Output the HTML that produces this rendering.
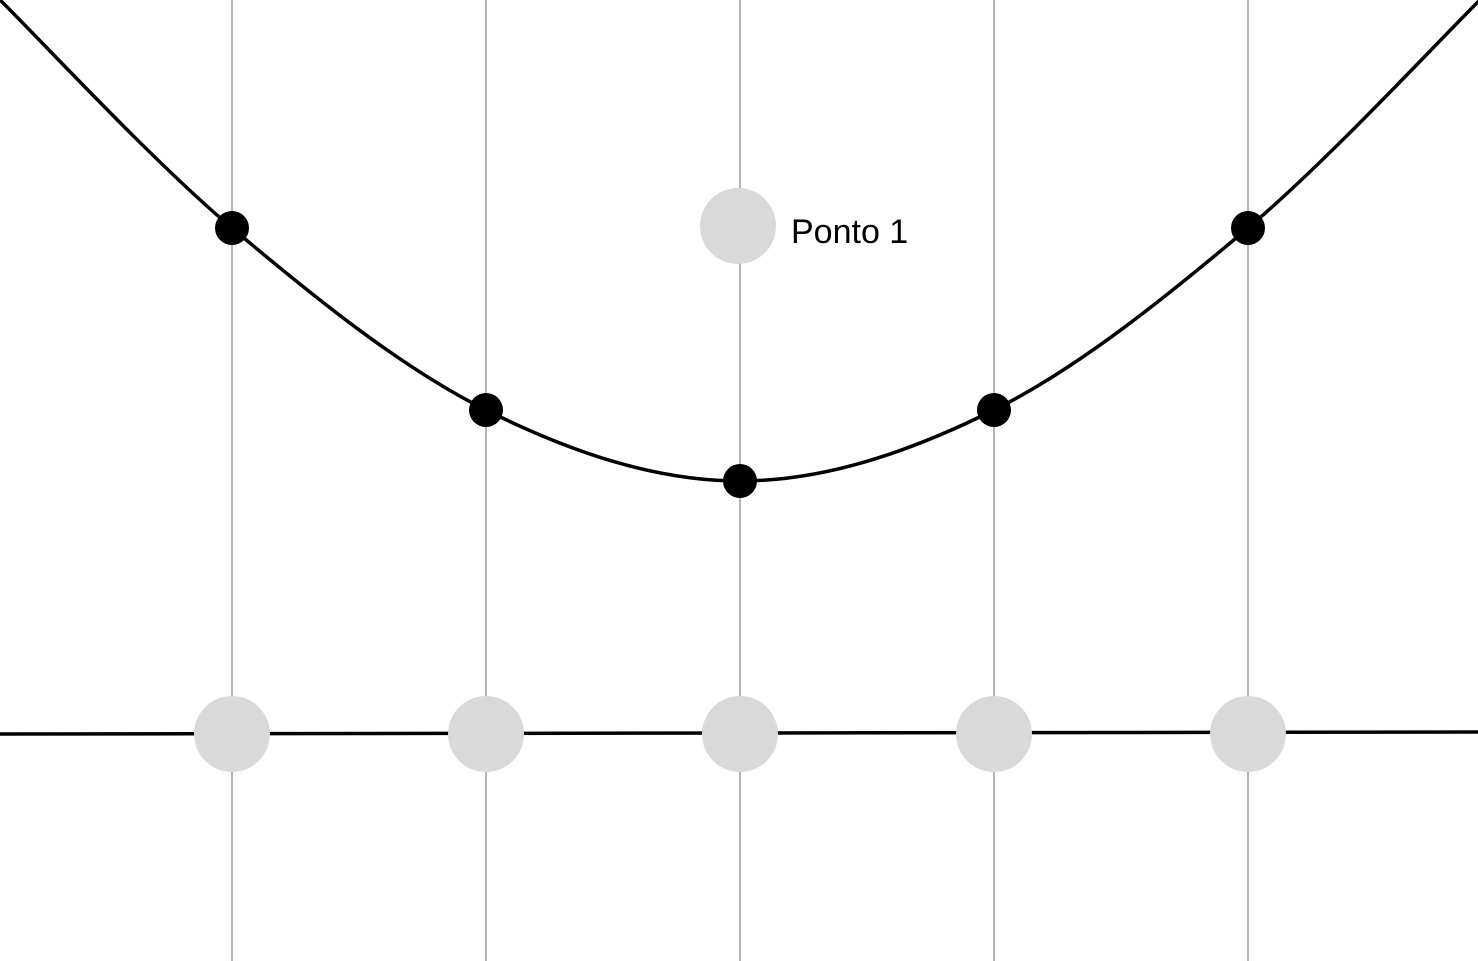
<!DOCTYPE html>
<html>
<head>
<meta charset="utf-8">
<style>
  html,body{margin:0;padding:0;background:#fff;}
  svg{display:block;}
  text{font-family:"Liberation Sans",sans-serif;}
</style>
</head>
<body>
<svg id="chart" width="1478" height="961" viewBox="0 0 1478 961" xmlns="http://www.w3.org/2000/svg"></svg>
<script>
// data
const gridXs = [-2, -1, 0, 1, 2];
const curveXs = [-2.913, -2, -1, 0, 1, 2, 2.913];
const curveYs = [733, 505, 323, 252, 323, 505, 733];
const pointXs = [-2, -1, 0, 1, 2];
const pointYs = [505, 323, 252, 323, 505];
const baseXs = [-2, -1, 0, 1, 2];
const baseYs = [0, 0, 0, 0, 0];
const labelPoint = {x: 0, y: 507, text: "Ponto 1"};

// axes
const sx = v => 740 + v * 254;
const sy = v => 733 - v;

const svg = document.getElementById('chart');
const NS = 'http://www.w3.org/2000/svg';
function mk(tag, attrs){const e=document.createElementNS(NS,tag);for(const k in attrs)e.setAttribute(k,attrs[k]);svg.appendChild(e);return e;}

gridXs.forEach(v=>{
  const l=mk('line',{x1:sx(v),x2:sx(v),y1:0,y2:961,stroke:'#9a9a9a','stroke-width':1.5});
  
  
});

const base=mk('line',{x1:0,y1:734,x2:1478,y2:732,stroke:'#000','stroke-width':3.5});



// curve via Catmull-Rom
const P = curveXs.map((x,i)=>[sx(x),sy(curveYs[i])]);
let d=`M${P[0][0]},${P[0][1]}`;
for(let i=0;i<P.length-1;i++){
  const p0=P[Math.max(0,i-1)],p1=P[i],p2=P[i+1],p3=P[Math.min(P.length-1,i+2)];
  const c1=[p1[0]+(p2[0]-p0[0])/6,p1[1]+(p2[1]-p0[1])/6];
  const c2=[p2[0]-(p3[0]-p1[0])/6,p2[1]-(p3[1]-p1[1])/6];
  d+=` C${c1[0]},${c1[1]} ${c2[0]},${c2[1]} ${p2[0]},${p2[1]}`;
}
const curve=mk('path',{d:d,fill:'none',stroke:'#000','stroke-width':3.5});



baseXs.forEach((v,i)=>{
  const c=mk('circle',{cx:sx(v),cy:sy(baseYs[i])+1,r:38,fill:'#d9d9d9'});
  
  
});

pointXs.forEach((v,i)=>{
  const c=mk('circle',{cx:sx(v),cy:sy(pointYs[i]),r:17,fill:'#000'});
  
  
});

const lp=mk('circle',{cx:sx(labelPoint.x)-2,cy:sy(labelPoint.y),r:38,fill:'#d9d9d9'});


const t=mk('text',{x:791,y:243,'font-size':34,fill:'#000'});
t.textContent=labelPoint.text;


</script>
</body>
</html>
